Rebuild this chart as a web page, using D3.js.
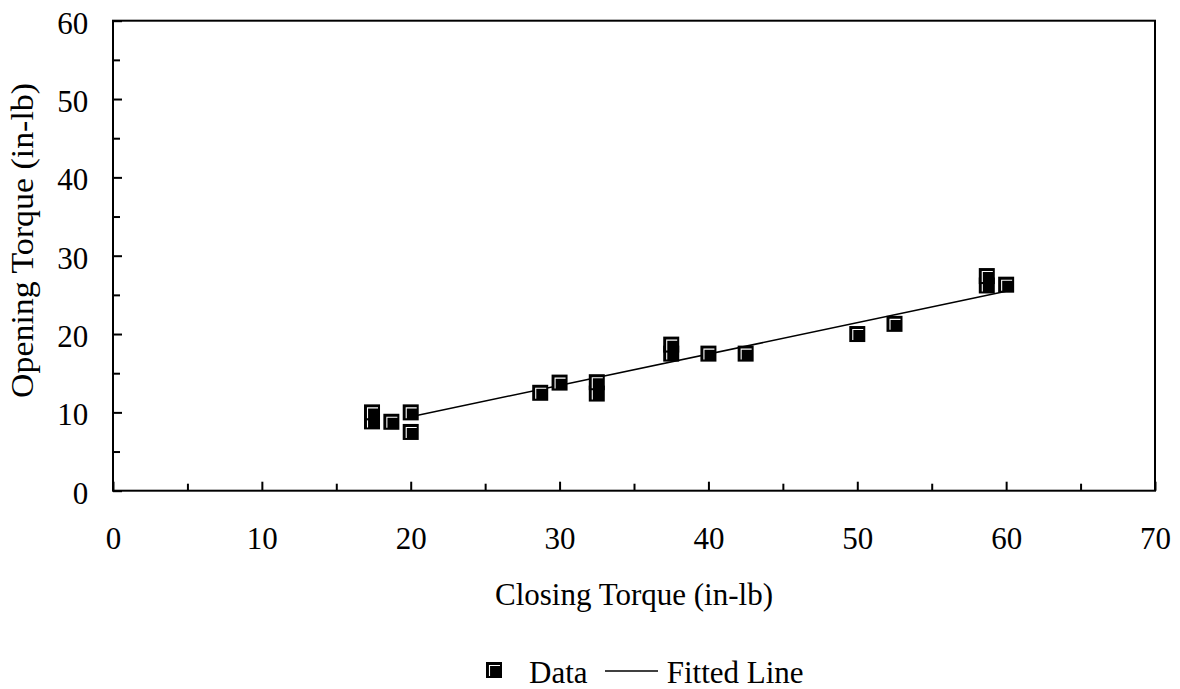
<!DOCTYPE html>
<html>
<head>
<meta charset="utf-8">
<script src="https://cdn.jsdelivr.net/npm/d3@7"></script>
<style>
  html, body { margin: 0; padding: 0; background: #fff; }
  svg { display: block; }
  text { font-family: "Liberation Serif", "Times New Roman", serif; fill: #000; }
</style>
</head>
<body>
<svg id="chart" width="1180" height="689"></svg>
<script>
// Measured torque pairs (in-lb); points sharing a closing torque are listed low-to-high
const closingTorque = [17.4, 17.4, 18.7, 20, 20, 28.7, 30, 32.5, 32.5, 37.5, 37.5, 40, 42.5, 50, 52.5, 58.7, 58.7, 60];
const openingTorque = [8.85, 10.0, 8.8, 7.5, 10.0, 12.5, 13.8, 12.4, 13.85, 17.5, 18.65, 17.5, 17.5, 20.0, 21.3, 26.2, 27.4, 26.3];

// Least-squares fitted line endpoints
const fitClosing = [20, 60];
const fitOpening = [9.45, 25.45];

// Axis ticks
const xMajorTicks = [0, 10, 20, 30, 40, 50, 60, 70];
const xMinorTicks = [5, 15, 25, 35, 45, 55, 65];
const yMajorTicks = [0, 10, 20, 30, 40, 50, 60];
const yMinorTicks = [5, 15, 25, 35, 45, 55];

const xTitle = "Closing Torque (in-lb)";
const yTitle = "Opening Torque (in-lb)";
const legendLabels = ["Data", "Fitted Line"];

const svg = d3.select("#chart");
const plot = { left: 113, right: 1155, top: 20.7, bottom: 490.7 };
const fontSize = 31;

const x = d3.scaleLinear().domain([0, 70]).range([plot.left, plot.right]);
const y = d3.scaleLinear().domain([0, 60]).range([plot.bottom, plot.top]);

// Minor ticks (inward, no labels)
svg.append("g")
  .attr("transform", `translate(0,${plot.bottom})`)
  .call(d3.axisBottom(x).tickValues(xMinorTicks).tickSizeInner(-7).tickSizeOuter(0).tickFormat(""))
  .call(g => g.select(".domain").remove())
  .call(g => g.selectAll("line").attr("stroke", "#000").attr("stroke-width", 2));

svg.append("g")
  .attr("transform", `translate(${plot.left},0)`)
  .call(d3.axisLeft(y).tickValues(yMinorTicks).tickSizeInner(-7).tickSizeOuter(0).tickFormat(""))
  .call(g => g.select(".domain").remove())
  .call(g => g.selectAll("line").attr("stroke", "#000").attr("stroke-width", 2));

// Major ticks with labels
svg.append("g")
  .attr("transform", `translate(0,${plot.bottom})`)
  .call(d3.axisBottom(x).tickValues(xMajorTicks).tickSizeInner(-9).tickSizeOuter(0).tickFormat(d3.format("d")))
  .call(g => g.select(".domain").remove())
  .call(g => g.selectAll("line").attr("stroke", "#000").attr("stroke-width", 2))
  .call(g => g.selectAll("text")
    .attr("y", 58.6).attr("dy", null)
    .attr("font-size", fontSize)
    .attr("font-family", "Liberation Serif, Times New Roman, serif")
    .attr("fill", "#000"));

svg.append("g")
  .attr("transform", `translate(${plot.left},0)`)
  .call(d3.axisLeft(y).tickValues(yMajorTicks).tickSizeInner(-9).tickSizeOuter(0).tickFormat(d3.format("d")))
  .call(g => g.select(".domain").remove())
  .call(g => g.selectAll("line").attr("stroke", "#000").attr("stroke-width", 2))
  .call(g => g.selectAll("text")
    .attr("x", -24.7).attr("y", 12.5).attr("dy", null)
    .attr("font-size", fontSize)
    .attr("font-family", "Liberation Serif, Times New Roman, serif")
    .attr("fill", "#000"));

// Plot frame
svg.append("rect")
  .attr("x", plot.left).attr("y", plot.top)
  .attr("width", plot.right - plot.left)
  .attr("height", plot.bottom - plot.top)
  .attr("fill", "none").attr("stroke", "#000").attr("stroke-width", 2);

// Fitted line
const fitData = fitClosing.map((c, i) => [c, fitOpening[i]]);
svg.append("path")
  .datum(fitData)
  .attr("fill", "none").attr("stroke", "#000").attr("stroke-width", 1.6)
  .attr("d", d3.line().x(d => x(d[0])).y(d => y(d[1])));

// Square marker: black body with a white bevel along the top and left
function drawMarker(g) {
  g.append("rect")
    .attr("x", -8).attr("y", -8).attr("width", 16).attr("height", 16)
    .attr("fill", "#000");
  g.append("path")
    .attr("d", "M-4.5,6 V-4.5 H6")
    .attr("fill", "none").attr("stroke", "#fff").attr("stroke-width", 1.1);
}

const points = closingTorque.map((c, i) => ({ c, o: openingTorque[i] }));
svg.append("g").selectAll("g")
  .data(points)
  .join("g")
  .attr("transform", d => `translate(${x(d.c)},${y(d.o)})`)
  .each(function () { drawMarker(d3.select(this)); });

// Axis titles
svg.append("text")
  .attr("x", (plot.left + plot.right) / 2).attr("y", 605)
  .attr("text-anchor", "middle")
  .attr("font-size", fontSize)
  .text(xTitle);

svg.append("text")
  .attr("transform", "translate(33,240.5) rotate(-90)")
  .attr("text-anchor", "middle")
  .attr("font-size", fontSize)
  .attr("textLength", 315)
  .attr("lengthAdjust", "spacingAndGlyphs")
  .text(yTitle);

// Legend
const legend = svg.append("g");
const lm = legend.append("g").attr("transform", "translate(494,670)");
drawMarker(lm);
legend.append("text")
  .attr("x", 529).attr("y", 682.7)
  .attr("font-size", fontSize)
  .text(legendLabels[0]);
legend.append("line")
  .attr("x1", 605).attr("x2", 658).attr("y1", 671).attr("y2", 671)
  .attr("stroke", "#000").attr("stroke-width", 1.6);
legend.append("text")
  .attr("x", 666.7).attr("y", 682.7)
  .attr("font-size", fontSize)
  .text(legendLabels[1]);
</script>
</body>
</html>
